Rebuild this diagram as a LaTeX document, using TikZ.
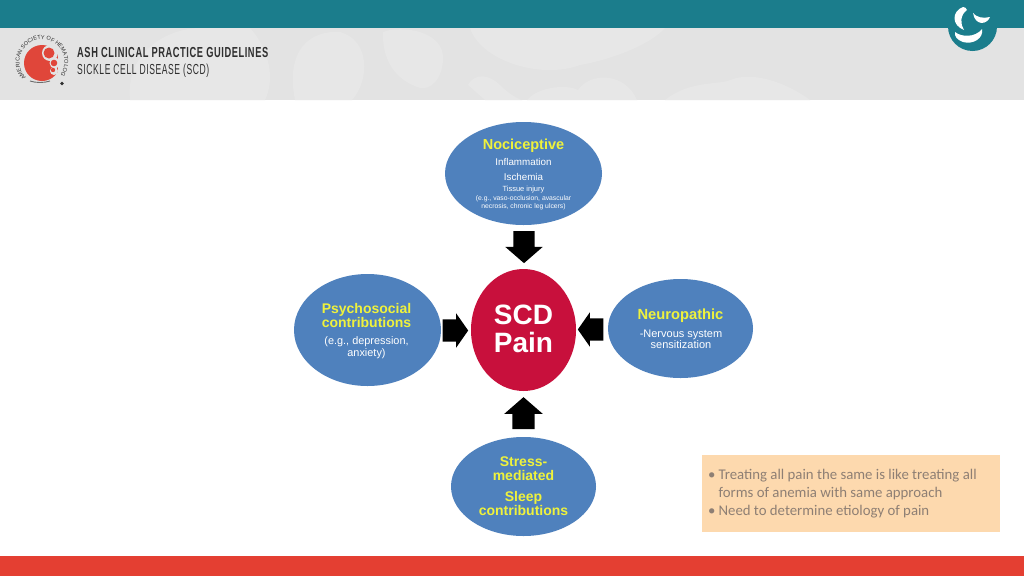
\documentclass[tikz,border=0pt]{standalone}
\usepackage{fontspec}
\setmainfont{Liberation Sans}
\newfontfamily\bodyfont{Carlito}
\newfontfamily\headbold[FakeStretch=0.64,LetterSpace=4]{Liberation Sans Bold}
\newfontfamily\headreg[FakeStretch=0.59,LetterSpace=4]{Liberation Sans}
\usetikzlibrary{shapes.geometric,shapes.arrows,decorations.text}
\definecolor{teal1}{HTML}{1B7D8C}
\definecolor{band}{HTML}{E3E3E3}
\definecolor{band2}{HTML}{E7E7E7}
\definecolor{blob}{HTML}{4F81BD}
\definecolor{sred}{HTML}{C8103C}
\definecolor{ylw}{HTML}{EFF23C}
\definecolor{peach}{HTML}{FDD9AE}
\definecolor{peachtext}{HTML}{8E7F74}
\definecolor{ashred}{HTML}{E0463A}
\definecolor{barred}{HTML}{E43F32}
\definecolor{headtext}{HTML}{2F2F2F}
\tikzset{
  x=1pt,y=-1pt,
  blobnode/.style={ellipse,fill=blob,draw=none,inner sep=0pt},
  vblock/.style={single arrow,fill=black,draw=none,minimum height=32pt,inner sep=0pt,single arrow head extend=8pt,single arrow tip angle=98},
  hblock/.style={single arrow,fill=black,draw=none,minimum height=25.5pt,inner sep=0pt,single arrow head extend=6pt,single arrow tip angle=110},
  titletext/.style={inner sep=0pt,align=center,text=ylw,font=\fontsize{14}{14}\selectfont\bfseries},
  bodytext/.style={inner sep=0pt,align=center,text=white},
}
\begin{document}
\begin{tikzpicture}
\useasboundingbox (0,0) rectangle (1024,576);
\fill[white] (0,0) rectangle (1024,576);
% header
\fill[band] (0,28) rectangle (1024,100);
\begin{scope}
\clip (0,28) rectangle (1024,100);
\fill[band2] (130,100) .. controls (125,50) and (170,28) .. (200,28) -- (250,28) .. controls (270,50) and (275,80) .. (265,100) -- cycle;
\fill[band2] (295,100) .. controls (285,50) and (310,30) .. (340,32) .. controls (370,40) and (370,80) .. (352,100) -- cycle;
\fill[band2] (383,32) .. controls (400,25) and (445,30) .. (443,60) .. controls (442,80) and (430,90) .. (420,88) .. controls (395,80) and (382,60) .. (383,32) -- cycle;
\fill[band2] (470,28) .. controls (480,60) and (540,80) .. (580,65) .. controls (610,60) and (650,45) .. (665,28) -- cycle;
\fill[band2] (468,85) .. controls (475,72) and (490,75) .. (500,85) .. controls (510,95) and (520,100) .. (522,100) -- (485,100) -- cycle;
\fill[band2] (527,100) .. controls (540,85) and (570,85) .. (578,90) .. controls (590,72) and (625,72) .. (637,100) -- cycle;
\fill[band2] (665,100) .. controls (690,80) and (720,85) .. (730,80) .. controls (755,70) and (790,85) .. (810,100) -- cycle;
\end{scope}
\fill[teal1] (0,0) rectangle (1024,28);
\fill[barred] (0,556) rectangle (1024,576);
% ASH logo
\fill[ashred] (42,63) circle (18);
\fill[band] (50,53) circle (8);
\fill[band] (55,63) circle (5.5);
\fill[band] (54,71) circle (4);
\fill[band] (58,50) rectangle (62,74);
\fill[ashred] (49,53) circle (5.5);
\fill[ashred] (54,63) circle (3.3);
\fill[ashred] (53,70) circle (2.2);
\begin{scope}[shift={(42,62)},y=1pt]
\path[decorate,decoration={text along path,text align=center,
  text={|\fontsize{5.6}{6}\selectfont\color{headtext}|AMERICAN SOCIETY OF HEMATOLOGY}}]
  (215:22.5) arc[start angle=215,end angle=-35,radius=22.5];
\end{scope}
\draw[headtext!70,line width=0.9pt] (30,81) .. controls (36,83) and (44,83) .. (50,81);
\fill[headtext] (62,83.5) circle (1.8);
\node[anchor=west,inner sep=0pt,text=headtext] (h1) at (77,53) {\headbold\fontsize{14.5}{14.5}\selectfont ASH CLINICAL PRACTICE GUIDELINES};
\node[anchor=west,inner sep=0pt,text=headtext] (h2) at (77,71) {\headreg\fontsize{14.5}{14.5}\selectfont SICKLE CELL DISEASE (SCD)};
% corner logo
\fill[teal1] (972.5,26.5) circle (24.5);
\fill[white] (963,7) .. controls (952,11) and (951,25) .. (964,30) .. controls (960,24) and (960,15) .. (967,10) .. controls (966,8) and (965,7) .. (963,7) -- cycle;
\fill[white] (973,13) .. controls (976,17) and (983,19) .. (990,17) .. controls (987,25) and (975,26) .. (973,13) -- cycle;
\fill[white] (955,32) .. controls (961,37) and (975,38) .. (982,29) .. controls (984,38) and (973,45) .. (963,42) .. controls (957,40) and (954,36) .. (955,32) -- cycle;
% blobs
\node[blobnode,minimum width=157pt,minimum height=103pt] (noci) at (523.5,173.5) {};
\node[titletext,font=\fontsize{14.5}{14.5}\selectfont\bfseries] (nocit) at (523.5,146) {Nociceptive};
\node[bodytext,font=\fontsize{9.8}{11}\selectfont] (noci1) at (523.5,162) {Inflammation};
\node[bodytext,font=\fontsize{9.8}{11}\selectfont] (noci2) at (523.5,177) {Ischemia};
\node[bodytext,font=\fontsize{7.5}{9}\selectfont] (noci3) at (523.5,189.5) {Tissue injury};
\node[bodytext,font=\fontsize{6.8}{7.8}\selectfont] (noci4) at (523.5,203) {(e.g., vaso-occlusion, avascular\\necrosis, chronic leg ulcers)};
\node[blobnode,minimum width=147pt,minimum height=112pt] (psy) at (367.5,330) {};
\node[titletext] (psyt) at (366.5,315) {Psychosocial\\contributions};
\node[bodytext,font=\fontsize{10.9}{12}\selectfont] (psy1) at (366.5,348) {(e.g., depression,\\anxiety)};
\node[blobnode,minimum width=145pt,minimum height=99pt] (neuro) at (680.5,328.5) {};
\node[titletext,font=\fontsize{14.7}{15}\selectfont\bfseries] (neurot) at (680.5,316) {Neuropathic};
\node[bodytext,font=\fontsize{11}{11.5}\selectfont] (neuro1) at (681,339.5) {-Nervous system\\sensitization};
\node[blobnode,minimum width=145pt,minimum height=99pt] (stress) at (523.5,486.5) {};
\node[titletext,font=\fontsize{14}{14}\selectfont\bfseries] (stresst) at (523.5,469) {Stress-\\mediated};
\node[titletext,font=\fontsize{14}{14}\selectfont\bfseries] (stress1) at (523.5,503) {Sleep\\contributions};
\node[ellipse,fill=sred,inner sep=0pt,minimum width=105pt,minimum height=122pt] (scd) at (523.5,330) {};
\node[inner sep=0pt,align=center,text=white,font=\fontsize{28}{27.5}\selectfont\bfseries] (scdt) at (523.5,329) {SCD\\Pain};
% block arrows
\node[vblock,rotate=-90] (a1) at (524,242.5) {\rule{0pt}{21pt}};
\node[vblock,rotate=90] (a2) at (523.5,418) {\rule{0pt}{22pt}};
\node[hblock,rotate=0] (a3) at (451.5,330.5) {\rule{0pt}{22pt}};
\node[hblock,rotate=180] (a4) at (594.5,329.5) {\rule{0pt}{22pt}};
% note
\fill[peach] (702,455) rectangle (1000,532);
\node[anchor=north west,inner sep=0pt,text=peachtext,align=left,font=\bodyfont\fontsize{14.8}{17.8}\selectfont] (note) at (708,469) {•\hspace{3pt}Treating all pain the same is like treating all\\\hspace{10.5pt}forms of anemia with same approach\\•\hspace{3pt}Need to determine etiology of pain};
\end{tikzpicture}
\end{document}
